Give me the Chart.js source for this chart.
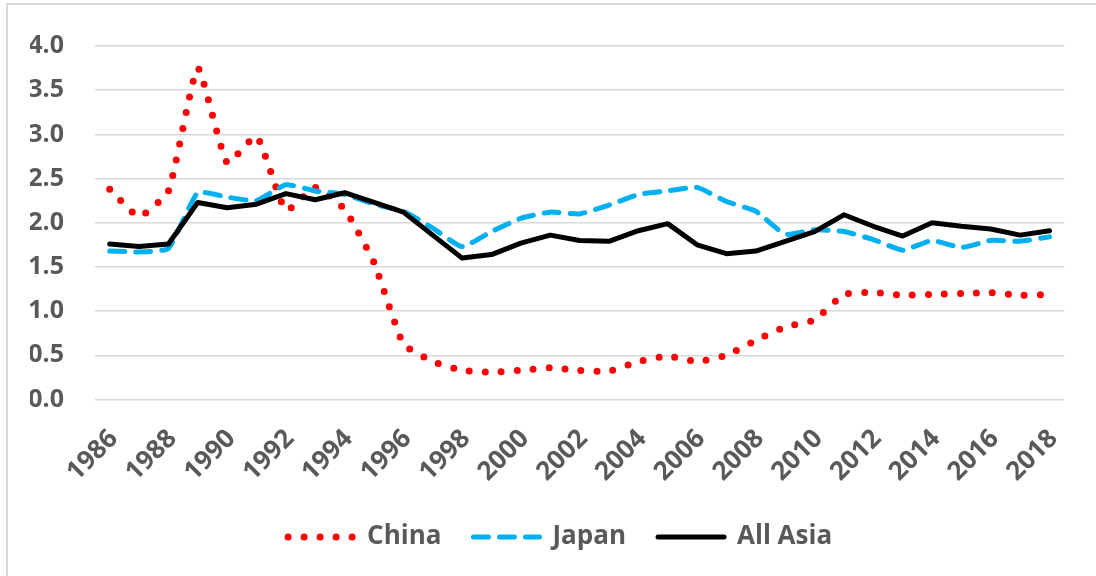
<!DOCTYPE html>
<html>
<head>
<meta charset="utf-8">
<script src="https://cdn.jsdelivr.net/npm/chart.js@4"></script>
<style>
  html, body { margin: 0; padding: 0; background: #fff; }
  #wrap { position: relative; width: 1096px; height: 576px; overflow: hidden; }
  #frame { position: absolute; left: 6px; top: 3px; width: 1200px; height: 700px;
           border-left: 2px solid #d9d9d9; border-top: 2px solid #d9d9d9; }
  canvas { position: absolute; left: 0; top: 0; }
</style>
</head>
<body>
<div id="wrap">
  <div id="frame"></div>
  <canvas id="asiaChart" width="1096" height="576"></canvas>
</div>
<script>
// years on the category axis
const years = ['1986','1987','1988','1989','1990','1991','1992','1993','1994','1995','1996',
  '1997','1998','1999','2000','2001','2002','2003','2004','2005','2006','2007','2008',
  '2009','2010','2011','2012','2013','2014','2015','2016','2017','2018'];

// series
const china = [2.38, 2.07, 2.36, 3.75, 2.68, 2.98, 2.14, 2.40, 2.15, 1.55, 0.63,
  0.43, 0.33, 0.31, 0.33, 0.36, 0.33, 0.32, 0.43, 0.49, 0.43, 0.50, 0.67,
  0.82, 0.90, 1.19, 1.21, 1.18, 1.19, 1.20, 1.21, 1.18, 1.19];
const japan = [1.68, 1.67, 1.71, 2.34, 2.29, 2.25, 2.43, 2.36, 2.32, 2.21, 2.13,
  1.94, 1.73, 1.90, 2.05, 2.12, 2.10, 2.20, 2.32, 2.36, 2.40, 2.24, 2.13,
  1.87, 1.92, 1.90, 1.81, 1.69, 1.80, 1.72, 1.80, 1.79, 1.84];
const allAsia = [1.76, 1.73, 1.76, 2.23, 2.17, 2.21, 2.33, 2.26, 2.34, 2.23, 2.12,
  1.86, 1.60, 1.64, 1.77, 1.86, 1.80, 1.79, 1.91, 1.99, 1.75, 1.65, 1.68,
  1.79, 1.90, 2.09, 1.96, 1.85, 2.00, 1.96, 1.93, 1.86, 1.91];

// y ticks
const yMin = 0, yMax = 4, yStep = 0.5;

const font = 'Open Sans';
const grey = '#595959';

new Chart(document.getElementById('asiaChart'), {
  type: 'line',
  data: {
    labels: years,
    datasets: [
      { label: 'China', data: china, borderColor: '#ff0000', borderWidth: 7,
        borderDash: [0, 16], borderCapStyle: 'round', tension: 0.15, order: 3 },
      { label: 'Japan', data: japan, borderColor: '#00b0f0', borderWidth: 5,
        borderDash: [15, 11], borderCapStyle: 'round', tension: 0.15, order: 2 },
      { label: 'All Asia', data: allAsia, borderColor: '#000000', borderWidth: 5,
        borderJoinStyle: 'round', borderCapStyle: 'round', tension: 0, order: 1 }
    ]
  },
  options: {
    responsive: false,
    animation: false,
    devicePixelRatio: 1,
    layout: { padding: { left: 30, top: 37, right: 28, bottom: 16 } },
    elements: { point: { radius: 0 } },
    plugins: {
      tooltip: { enabled: false },
      legend: {
        position: 'bottom',
        fullSize: false,
        labels: {
          font: { family: font, size: 26, weight: 'bold' },
          color: grey,
          usePointStyle: true,
          pointStyle: 'line',
          pointStyleWidth: 66,
          padding: 19,
          sort: (a, b) => a.datasetIndex - b.datasetIndex,
          generateLabels: chart => {
            const items = Chart.defaults.plugins.legend.labels.generateLabels(chart);
            const last = chart.data.datasets.length - 1;
            items.forEach(it => {
              const ds = chart.data.datasets[it.datasetIndex];
              it.lineDash = ds.borderDash || [];
              it.lineCap = ds.borderCapStyle;
              it.lineWidth = ds.borderWidth;
              it.strokeStyle = ds.borderColor;
              it.fillStyle = ds.borderColor;
              it.text = it.text + (it.datasetIndex === last ? '\u2002\u2002\u2002' : '\u2002');
            });
            return items;
          }
        }
      }
    },
    scales: {
      x: {
        offset: true,
        grid: { display: false, drawTicks: false },
        border: { display: false },
        ticks: {
          autoSkip: false,
          minRotation: 45, maxRotation: 45,
          padding: 24,
          labelOffset: 4,
          color: grey,
          font: { family: font, size: 26, weight: 'bold' },
          callback: function (v, i) { return i % 2 === 0 ? this.getLabelForValue(v) : ''; }
        },
        afterFit: s => { s.height = 105.5; }
      },
      y: {
        min: yMin, max: yMax,
        grid: { color: '#d9d9d9', lineWidth: 1.5, drawTicks: false },
        border: { display: false },
        ticks: {
          stepSize: yStep,
          padding: 31,
          color: grey,
          font: { family: font, size: 25, weight: 'bold' },
          callback: v => v.toFixed(1)
        },
        afterFit: s => { s.width = 65; }
      }
    }
  }
});
</script>
</body>
</html>
